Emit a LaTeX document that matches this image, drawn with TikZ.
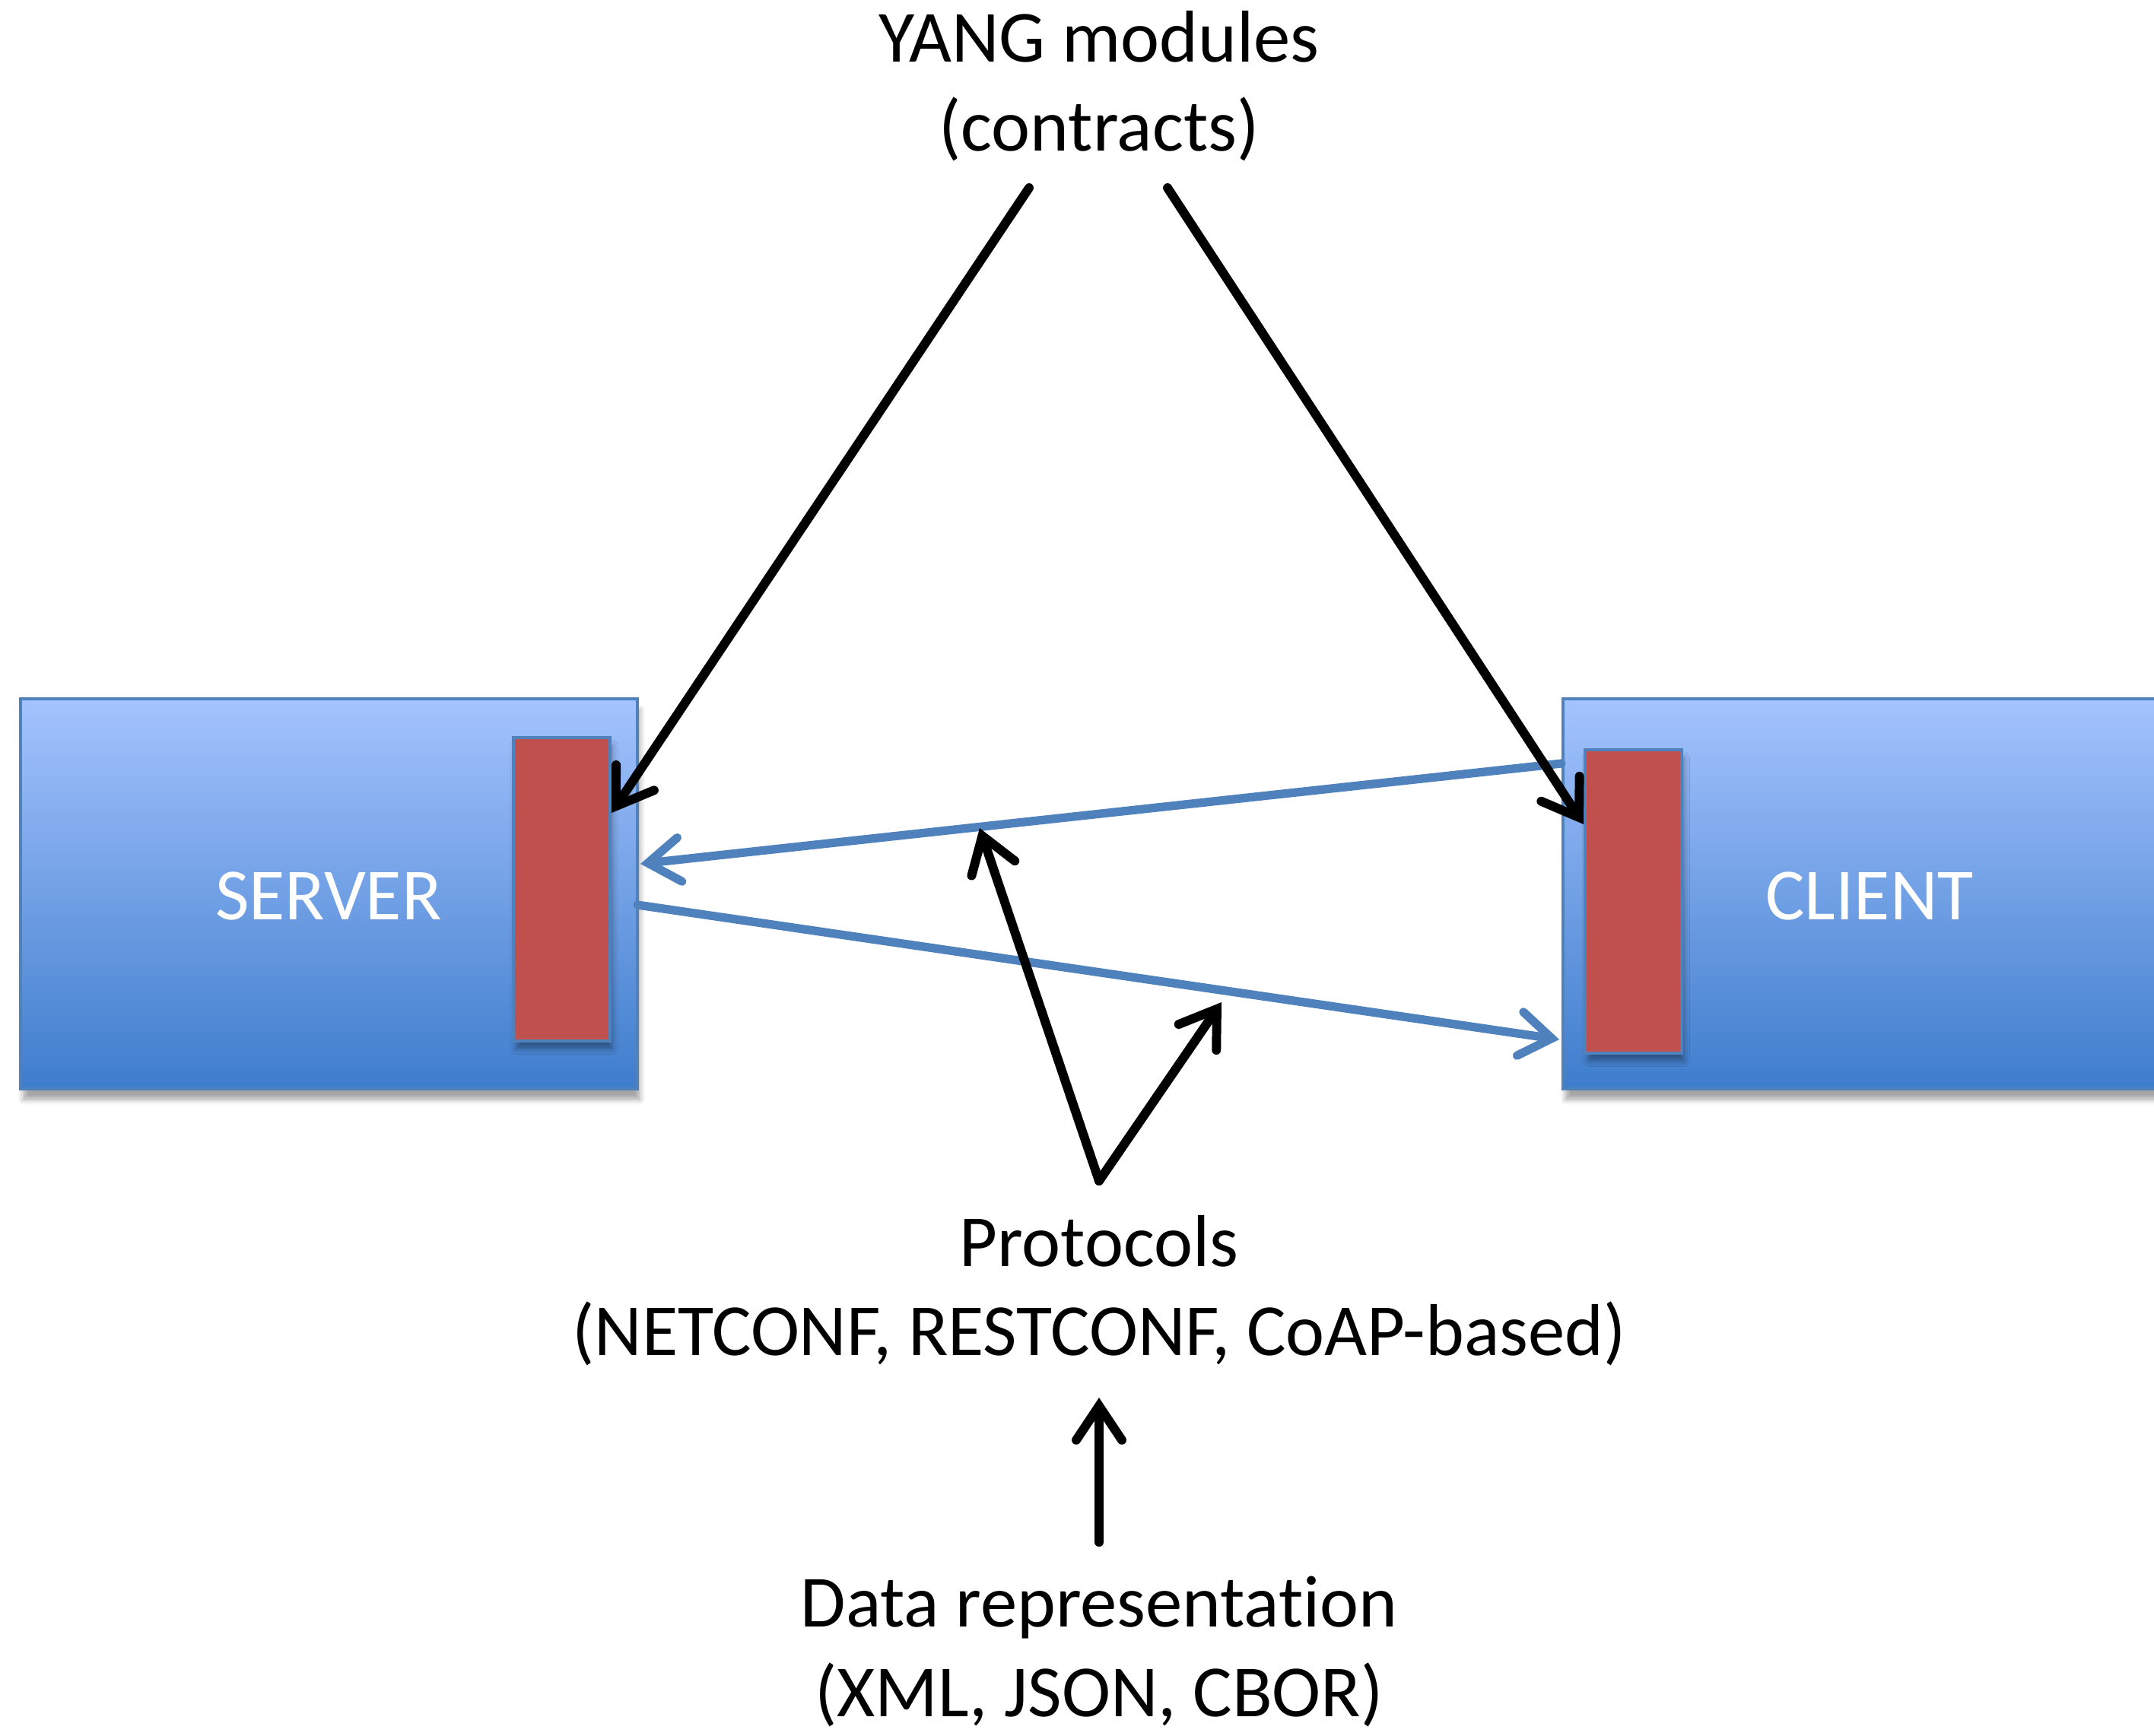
\documentclass[tikz,border=0pt]{standalone}
\usepackage{fontspec}
\setmainfont[Ligatures=NoCommon]{Carlito}
\usetikzlibrary{arrows.meta,shadows.blur}

\definecolor{boxtop}{RGB}{164,195,254}
\definecolor{boxbottom}{RGB}{62,125,204}
\definecolor{boxedge}{RGB}{79,129,189}
\definecolor{portred}{RGB}{192,80,77}
\definecolor{linkblue}{RGB}{79,129,189}

\tikzset{
  hostbox/.style={rectangle, draw=boxedge, line width=1pt,
    top color=boxtop, bottom color=boxbottom, inner sep=0pt,
    blur shadow={shadow blur steps=6, shadow xshift=1pt, shadow yshift=-4pt, shadow opacity=35}},
  portbox/.style={rectangle, draw=boxedge, line width=1pt, fill=portred, inner sep=0pt,
    blur shadow={shadow blur steps=6, shadow xshift=1pt, shadow yshift=-3pt, shadow opacity=35}},
  hostlabel/.style={text=white, font=\fontsize{27.5}{33}\selectfont},
  caption/.style={align=center, font=\fontsize{27.5}{33.5}\selectfont, inner sep=0pt},
  contract/.style={line width=3.4pt, line cap=round,
    -{Straight Barb[length=0.45cm, width=0.6cm, line cap=round]}},
  exchange/.style={draw=linkblue, line width=3.2pt, line cap=round,
    -{Straight Barb[length=0.42cm, width=0.58cm, line cap=round]}}
}

\begin{document}
\begin{tikzpicture}
\useasboundingbox (0,0) rectangle (28.32,-22.82);

% hosts
\node[hostbox, minimum width=8.11cm, minimum height=5.13cm] (server) at (4.325,-11.755) {};
\node[hostbox, minimum width=8.3cm, minimum height=5.13cm, anchor=west] (client) at (20.53,-11.755) {};
\node[portbox, minimum width=1.27cm, minimum height=3.99cm] (sport) at (7.385,-11.695) {};
\node[portbox, minimum width=1.27cm, minimum height=3.99cm] (cport) at (21.475,-11.855) {};
\node[hostlabel] (slabel) at (4.32,-11.78) {SERVER};
\node[hostlabel] (clabel) at (24.58,-11.78) {CLIENT};

% captions
\node[caption] (yang) at (14.45,-1.13) {YANG modules\\(contracts)};
\node[caption] (proto) at (14.45,-16.97) {Protocols\\(NETCONF, RESTCONF, CoAP-based)};
\node[caption] (data) at (14.45,-21.72) {Data representation\\(XML, JSON, CBOR)};

% connector end points
\coordinate (yangL) at (13.53,-2.47);
\coordinate (yangR) at (15.35,-2.47);
\coordinate (sportIn) at (8.04,-10.69);
\coordinate (cportIn) at (20.82,-10.84);
\coordinate (reqOut) at (20.53,-10.04);
\coordinate (reqIn) at (8.42,-11.36);
\coordinate (repOut) at (8.38,-11.90);
\coordinate (repIn) at (20.50,-13.67);
\coordinate (apex) at (14.45,-15.53);
\coordinate (reqMid) at (12.88,-10.89);
\coordinate (repMid) at (16.06,-13.18);
\coordinate (dataTop) at (14.45,-20.28);
\coordinate (protoBot) at (14.45,-18.38);

% messages between client and server
\draw[exchange] (reqOut) -- (reqIn);
\draw[exchange] (repOut) -- (repIn);

% contracts shared by both ends
\draw[contract] (yangL) -- (sportIn);
\draw[contract] (yangR) -- (cportIn);

% protocols carry the messages
\draw[contract] (apex) -- (reqMid);
\draw[contract] (apex) -- (repMid);

% encodings used by the protocols
\draw[contract] (dataTop) -- (protoBot);
\end{tikzpicture}
\end{document}
